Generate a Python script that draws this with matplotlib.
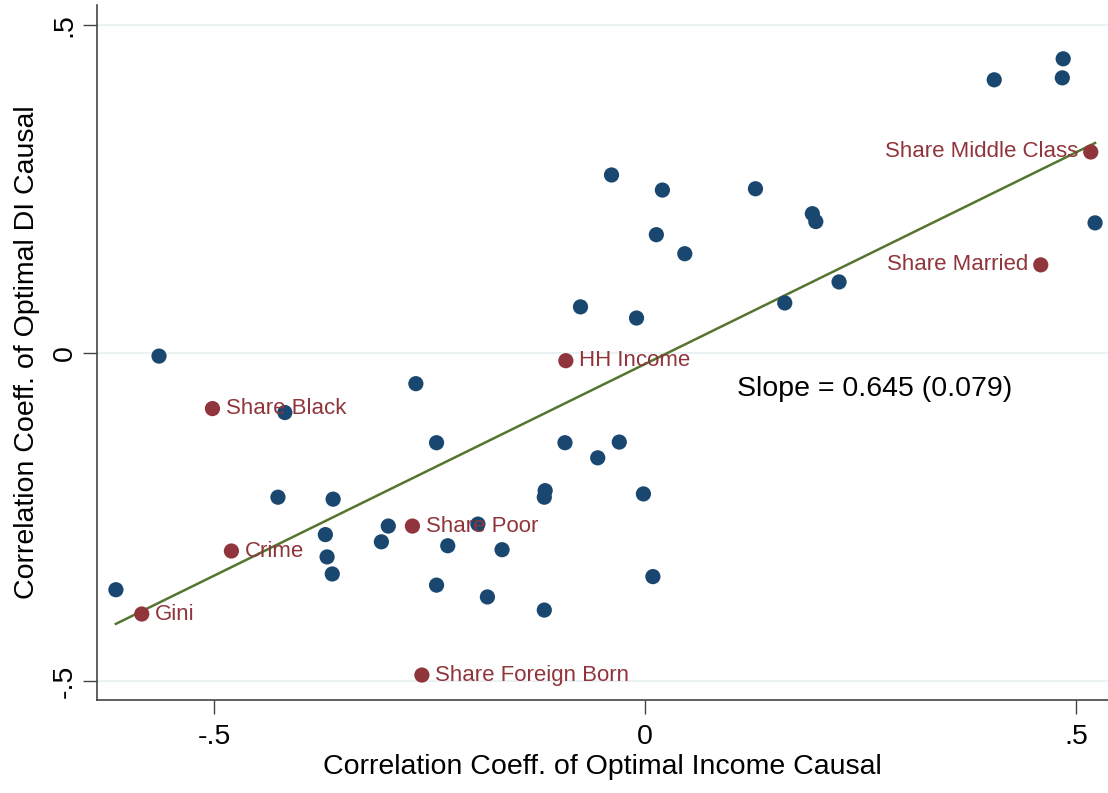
import numpy as np
import matplotlib.pyplot as plt

plt.rcParams['font.family'] = ['Liberation Sans', 'DejaVu Sans']

# unlabelled variables (blue)
x_other = [-0.614, -0.564, -0.418, -0.426, -0.362, -0.371, -0.369, -0.363, -0.306, -0.298,
           -0.266, -0.242, -0.242, -0.229, -0.194, -0.183, -0.166, -0.117, -0.116, -0.117,
           -0.093, -0.075, -0.055, -0.039, -0.030, -0.010, -0.002, 0.009, 0.013, 0.020,
           0.046, 0.128, 0.162, 0.194, 0.198, 0.225, 0.405, 0.484, 0.485, 0.522]
y_other = [-0.361, -0.005, -0.091, -0.220, -0.223, -0.277, -0.311, -0.337, -0.288, -0.264,
           -0.047, -0.137, -0.354, -0.294, -0.261, -0.372, -0.300, -0.392, -0.210, -0.220,
           -0.137, 0.070, -0.160, 0.271, -0.136, 0.053, -0.215, -0.341, 0.180, 0.248,
           0.151, 0.250, 0.076, 0.212, 0.200, 0.108, 0.416, 0.419, 0.448, 0.198]

# labelled variables (red)
labels = ['HH Income', 'Share Black', 'Share Poor', 'Crime', 'Gini',
          'Share Foreign Born', 'Share Middle Class', 'Share Married']
x_lab = [-0.092, -0.502, -0.270, -0.480, -0.584, -0.259, 0.517, 0.459]
y_lab = [-0.012, -0.085, -0.264, -0.302, -0.398, -0.491, 0.306, 0.134]
label_left = [False, False, False, False, False, False, True, True]

slope, intercept = 0.645, -0.017
slope_se = 0.079

blue = '#1a476f'
red = '#90353b'
green = '#55752f'

fig = plt.figure(figsize=(11.08, 7.93), dpi=100)
ax = fig.add_axes([0.0875, 0.1173, 0.9125, 0.8764])

ax.set_xlim(-0.636, 0.537)
ax.set_ylim(-0.529, 0.530)

for yv in [-0.5, 0, 0.5]:
    ax.axhline(yv, color='#eaf2f3', lw=1.5, zorder=0)

ax.scatter(x_other, y_other, s=120, color=blue, edgecolors='none', zorder=3)
ax.scatter(x_lab, y_lab, s=120, color=red, edgecolors='none', zorder=3)

xs = np.array([min(x_other + x_lab), max(x_other + x_lab)])
ax.plot(xs, intercept + slope * xs, color=green, lw=1.8, zorder=2)

for lab, xv, yv, left in zip(labels, x_lab, y_lab, label_left):
    if left:
        ax.annotate(lab, (xv, yv), xytext=(-9, 0), textcoords='offset points',
                    ha='right', va='center', color=red, fontsize=16)
    else:
        ax.annotate(lab, (xv, yv), xytext=(9.5, 0), textcoords='offset points',
                    ha='left', va='center', color=red, fontsize=16)

ax.text(0.107, -0.055, 'Slope = %.3f (%.3f)' % (slope, slope_se),
        fontsize=20.5, color='black', va='center', ha='left')

ax.spines['top'].set_visible(False)
ax.spines['right'].set_visible(False)
for sp in ['left', 'bottom']:
    ax.spines[sp].set_color('#444444')
    ax.spines[sp].set_linewidth(1.2)

ax.set_xticks([-0.5, 0, 0.5])
ax.set_xticklabels(['-.5', '0', '.5'])
ax.set_yticks([-0.5, 0, 0.5])
ax.set_yticklabels(['-.5', '0', '.5'], rotation=90, va='center')
ax.tick_params(axis='both', length=10, width=1, color='#444444', labelsize=20.5, pad=7)
ax.tick_params(axis='y', pad=4)

ax.set_xlabel('Correlation Coeff. of Optimal Income Causal', fontsize=20.5, labelpad=3)
ax.set_ylabel('Correlation Coeff. of Optimal DI Causal', fontsize=20.5, labelpad=8)

fig.savefig('out.png', dpi=100)
